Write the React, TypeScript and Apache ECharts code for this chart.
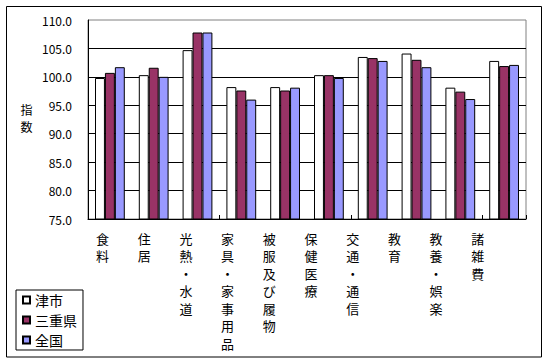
import React, { useEffect, useRef } from "react";
import * as echarts from "echarts";

const categories = ["食料", "住居", "光熱・水道", "家具・家事用品", "被服及び履物", "保健医療", "交通・通信", "教育", "教養・娯楽", "諸雑費"];
const tsuCity = [99.8, 100.3, 104.7, 98.2, 98.2, 100.3, 103.5, 104.1, 98.1, 102.8];
const mieKen = [100.7, 101.6, 107.8, 97.6, 97.6, 100.3, 103.3, 103.0, 97.4, 101.9];
const zenkoku = [101.7, 100.0, 107.8, 96.0, 98.1, 99.8, 102.8, 101.7, 96.1, 102.1];
const seriesNames = ["津市", "三重県", "全国"];
const yAxisName = ["指", "数"];
const yMin = 75;
const yMax = 110;
const yStep = 5;

const FONT = "'Noto Sans CJK JP', sans-serif";

export default function App() {
  const ref = useRef<HTMLDivElement>(null);
  useEffect(() => {
    if (!ref.current) return;
    const chart = echarts.init(ref.current, null, { renderer: "svg" });
    const barStyle = (color: string) => ({ color, borderColor: "#000", borderWidth: 1 });
    const vertical = (v: string) => v.split("").join("\n");
    chart.setOption({
      animation: false,
      backgroundColor: "#fff",
      textStyle: { fontFamily: FONT },
      graphic: [
        {
          type: "rect",
          shape: { x: 6.5, y: 6.5, width: 535, height: 350.5 },
          style: { fill: "none", stroke: "#000", lineWidth: 1 },
          silent: true,
        },
        ...yAxisName.map((ch, i) => ({
          type: "text",
          left: 20.5,
          top: 103 + i * 17.5,
          style: { text: ch, font: `12px ${FONT}`, fill: "#000" },
        })),
      ],
      legend: {
        orient: "vertical",
        left: 16,
        top: 290,
        padding: [3, 6, 3, 6],
        itemGap: 6,
        itemWidth: 7,
        itemHeight: 7,
        icon: "rect",
        borderColor: "#000",
        borderWidth: 1,
        backgroundColor: "#fff",
        textStyle: { fontSize: 14, color: "#000", fontFamily: FONT },
        data: seriesNames,
      },
      grid: [
        { left: 88, top: 20, width: 438, height: 199, show: true, borderColor: "#808080", borderWidth: 1, backgroundColor: "transparent" },
        { left: 81.65, top: 20, width: 417, height: 199, show: false },
      ],
      xAxis: [
        {
          type: "category",
          gridIndex: 0,
          data: categories,
          axisLine: { lineStyle: { color: "#000", width: 1 } },
          axisTick: { show: true, inside: true, length: 4, lineStyle: { color: "#000" } },
          axisLabel: { show: false },
        },
        {
          type: "category",
          gridIndex: 1,
          data: categories,
          position: "bottom",
          axisLine: { show: false },
          axisTick: { show: false },
          axisLabel: {
            interval: 0,
            margin: 10.5,
            formatter: (v: string) => vertical(v),
            fontSize: 13,
            lineHeight: 17.5,
            color: "#000",
            fontFamily: FONT,
            verticalAlign: "top",
          },
        },
      ],
      yAxis: [
        {
          type: "value",
          gridIndex: 0,
          min: yMin,
          max: yMax,
          interval: yStep,
          axisLine: { show: true, lineStyle: { color: "#000", width: 1 } },
          axisTick: { show: false },
          splitLine: { show: true, showMaxLine: false, lineStyle: { color: "#000", width: 1 } },
          axisLabel: {
            formatter: (v: number) => v.toFixed(1),
            fontSize: 12,
            margin: 16,
            color: "#000",
            fontFamily: FONT,
          },
        },
        { type: "value", gridIndex: 1, min: 0, max: 1, show: false },
      ],
      series: [
        { name: seriesNames[0], type: "bar", data: tsuCity, itemStyle: barStyle("#ffffff"), barGap: "0%", barCategoryGap: "32%" },
        { name: seriesNames[1], type: "bar", data: mieKen, itemStyle: barStyle("#993366"), barGap: "0%", barCategoryGap: "32%" },
        { name: seriesNames[2], type: "bar", data: zenkoku, itemStyle: barStyle("#9999ff"), barGap: "0%", barCategoryGap: "32%" },
      ],
    });
    return () => chart.dispose();
  }, []);
  return <div ref={ref} style={{ position: "absolute", left: 0, top: 0, width: 548, height: 363 }} />;
}
